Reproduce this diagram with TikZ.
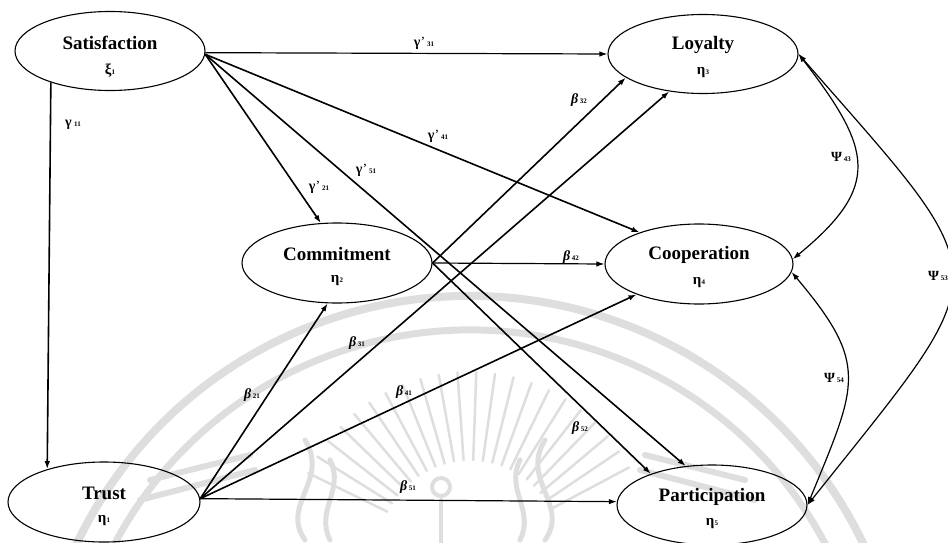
\documentclass[tikz,border=0pt]{standalone}
\usepackage{fontspec}
\setmainfont{Liberation Serif}
\usetikzlibrary{shapes.geometric,arrows.meta}

% coefficient labels: symbol followed by a small index
\newcommand{\coefG}[1]{\textbf{γ}\kern0.3pt’\kern1.8pt{\fontsize{7}{7}\selectfont\bfseries #1}}
\newcommand{\coefGG}[1]{\textbf{γ}\kern2.5pt{\fontsize{7}{7}\selectfont\bfseries #1}}
\newcommand{\coefB}[1]{\textit{\textbf{β}}\kern1.8pt{\fontsize{7}{7}\selectfont\bfseries #1}}
\newcommand{\coefP}[1]{\textbf{Ψ}\kern1.8pt{\fontsize{7}{7}\selectfont\bfseries #1}}
\newcommand{\latsym}[2]{#1\kern0.3pt{\fontsize{7}{7}\selectfont #2}}

\tikzset{
  latent/.style={ellipse, draw, line width=1.1pt, minimum width=190pt,
                 minimum height=79pt, inner sep=0pt},
  title/.style={font=\fontsize{19}{19}\selectfont\bfseries, inner sep=0pt},
  sym/.style={font=\fontsize{15}{15}\selectfont\bfseries, inner sep=0pt},
  tip/.style={-{Latex[length=8pt,width=5.5pt]}},
  effect/.style={tip, line width=1.2pt},
  strong/.style={tip, line width=1.6pt},
  cov/.style={line width=1.2pt, {Latex[length=8pt,width=5.5pt]}-{Latex[length=8pt,width=5.5pt]}},
  coef/.style={font=\fontsize{14}{14}\selectfont, inner sep=0pt},
  wmk/.style={draw=black!13, line cap=round},
}

\begin{document}
\begin{tikzpicture}[x=1pt,y=-1pt]
\useasboundingbox (0,0) rectangle (948,543);

% ---- faint seal in the background ----
\draw[wmk, line width=8pt] (470,732) ++(200:436) arc[start angle=200, end angle=340, radius=436];
\draw[wmk, line width=7pt] (470,732) ++(200:402) arc[start angle=200, end angle=340, radius=402];
\foreach \a in {206,212,...,334}
  \draw[wmk, line width=2.5pt] (470,552) ++(\a:92) -- ++(\a:88);
\draw[wmk, line width=6pt] (140,500) -- (255,470);
\draw[wmk, line width=6pt] (150,480) -- (250,455);
\draw[wmk, line width=6pt] (640,470) -- (755,500);
\draw[wmk, line width=6pt] (645,455) -- (745,480);
\draw[wmk, line width=5pt] (305,540) .. controls (280,505) and (330,480) .. (305,440);
\draw[wmk, line width=5pt] (330,540) .. controls (315,510) and (345,490) .. (330,460);
\draw[wmk, line width=5pt] (545,540) .. controls (570,505) and (520,480) .. (545,440);
\draw[wmk, line width=5pt] (520,540) .. controls (535,510) and (505,490) .. (520,460);
\draw[wmk, line width=4pt] (441,543) -- (441,500);
\draw[wmk, line width=4pt] (441,487) circle[radius=9];

% ---- latent variables ----
\node[latent] (sat) at (110,51) {};
\node[title] (satT) at (110,43) {Satisfaction};
\node[sym]   (satS) at (110,71) {\latsym{ξ}{1}};

\node[latent] (loy) at (703,54) {};
\node[title] (loyT) at (703,45) {Loyalty};
\node[sym]   (loyS) at (703,73) {\latsym{η}{3}};

\node[latent, minimum height=80pt] (com) at (337,263) {};
\node[title] (comT) at (337,254) {Commitment};
\node[sym]   (comS) at (337,281) {\latsym{η}{2}};

\node[latent, minimum width=188pt, minimum height=80pt] (coo) at (699,264) {};
\node[title] (cooT) at (699,255) {Cooperation};
\node[sym]   (cooS) at (699,283) {\latsym{η}{4}};

\node[latent, minimum width=192pt, minimum height=80pt] (tru) at (104,502) {};
\node[title] (truT) at (104,493) {Trust};
\node[sym]   (truS) at (104,521) {\latsym{η}{1}};

\node[latent, minimum height=80pt] (par) at (712,505) {};
\node[title] (parT) at (712,497) {Participation};
\node[sym]   (parS) at (712,524) {\latsym{η}{5}};

% ---- effects of Satisfaction ----
\draw[strong] (sat.208) -- (tru.150);
\draw[effect] (sat.-1) -- (loy.west);
\draw[strong] (sat.-2) -- (com.112);
\draw[strong] (sat.-2) -- (coo.152);
\draw[strong] (sat.-2) -- (par.124);

% ---- effects of Trust ----
\draw[strong] (tru.2) -- (com.257);
\draw[strong] (tru.2) -- (loy.228);
\draw[strong] (tru.2) -- (coo.206);
\draw[effect] (tru.2) -- (par.178);

% ---- effects of Commitment ----
\draw[strong] (com.east) -- (loy.197);
\draw[effect] (com.east) -- (coo.west);
\draw[strong] (com.east) -- (par.153);

% ---- correlated disturbances ----
\draw[cov] (loy.east) .. controls (872,149) and (882,186) .. (coo.3);
\draw[cov] (coo.-5) .. controls (870,365) and (857,384) .. (par.east);
\draw[cov] (loy.east) .. controls (1002,287) and (1001,262) .. (par.east);

% ---- coefficient labels ----
\node[coef] (g11) at (73,125) {\coefGG{11}};
\node[coef] (g31) at (424,43) {\coefG{31}};
\node[coef] (g21) at (319,187) {\coefG{21}};
\node[coef] (g41) at (438,136) {\coefG{41}};
\node[coef] (g51) at (366,170) {\coefG{51}};
\node[coef] (b32) at (579,100) {\coefB{32}};
\node[coef] (b31) at (357,343) {\coefB{31}};
\node[coef] (b21) at (252,395) {\coefB{21}};
\node[coef] (b41) at (404,392) {\coefB{41}};
\node[coef] (b42) at (571,257) {\coefB{42}};
\node[coef] (b52) at (580,428) {\coefB{52}};
\node[coef] (b51) at (408,487) {\coefB{51}};
\node[coef] (p43) at (841,157) {\coefP{43}};
\node[coef] (p54) at (834,378) {\coefP{54}};
\node[coef, anchor=west] (p53) at (928,276) {\coefP{53}};
\end{tikzpicture}
\end{document}
